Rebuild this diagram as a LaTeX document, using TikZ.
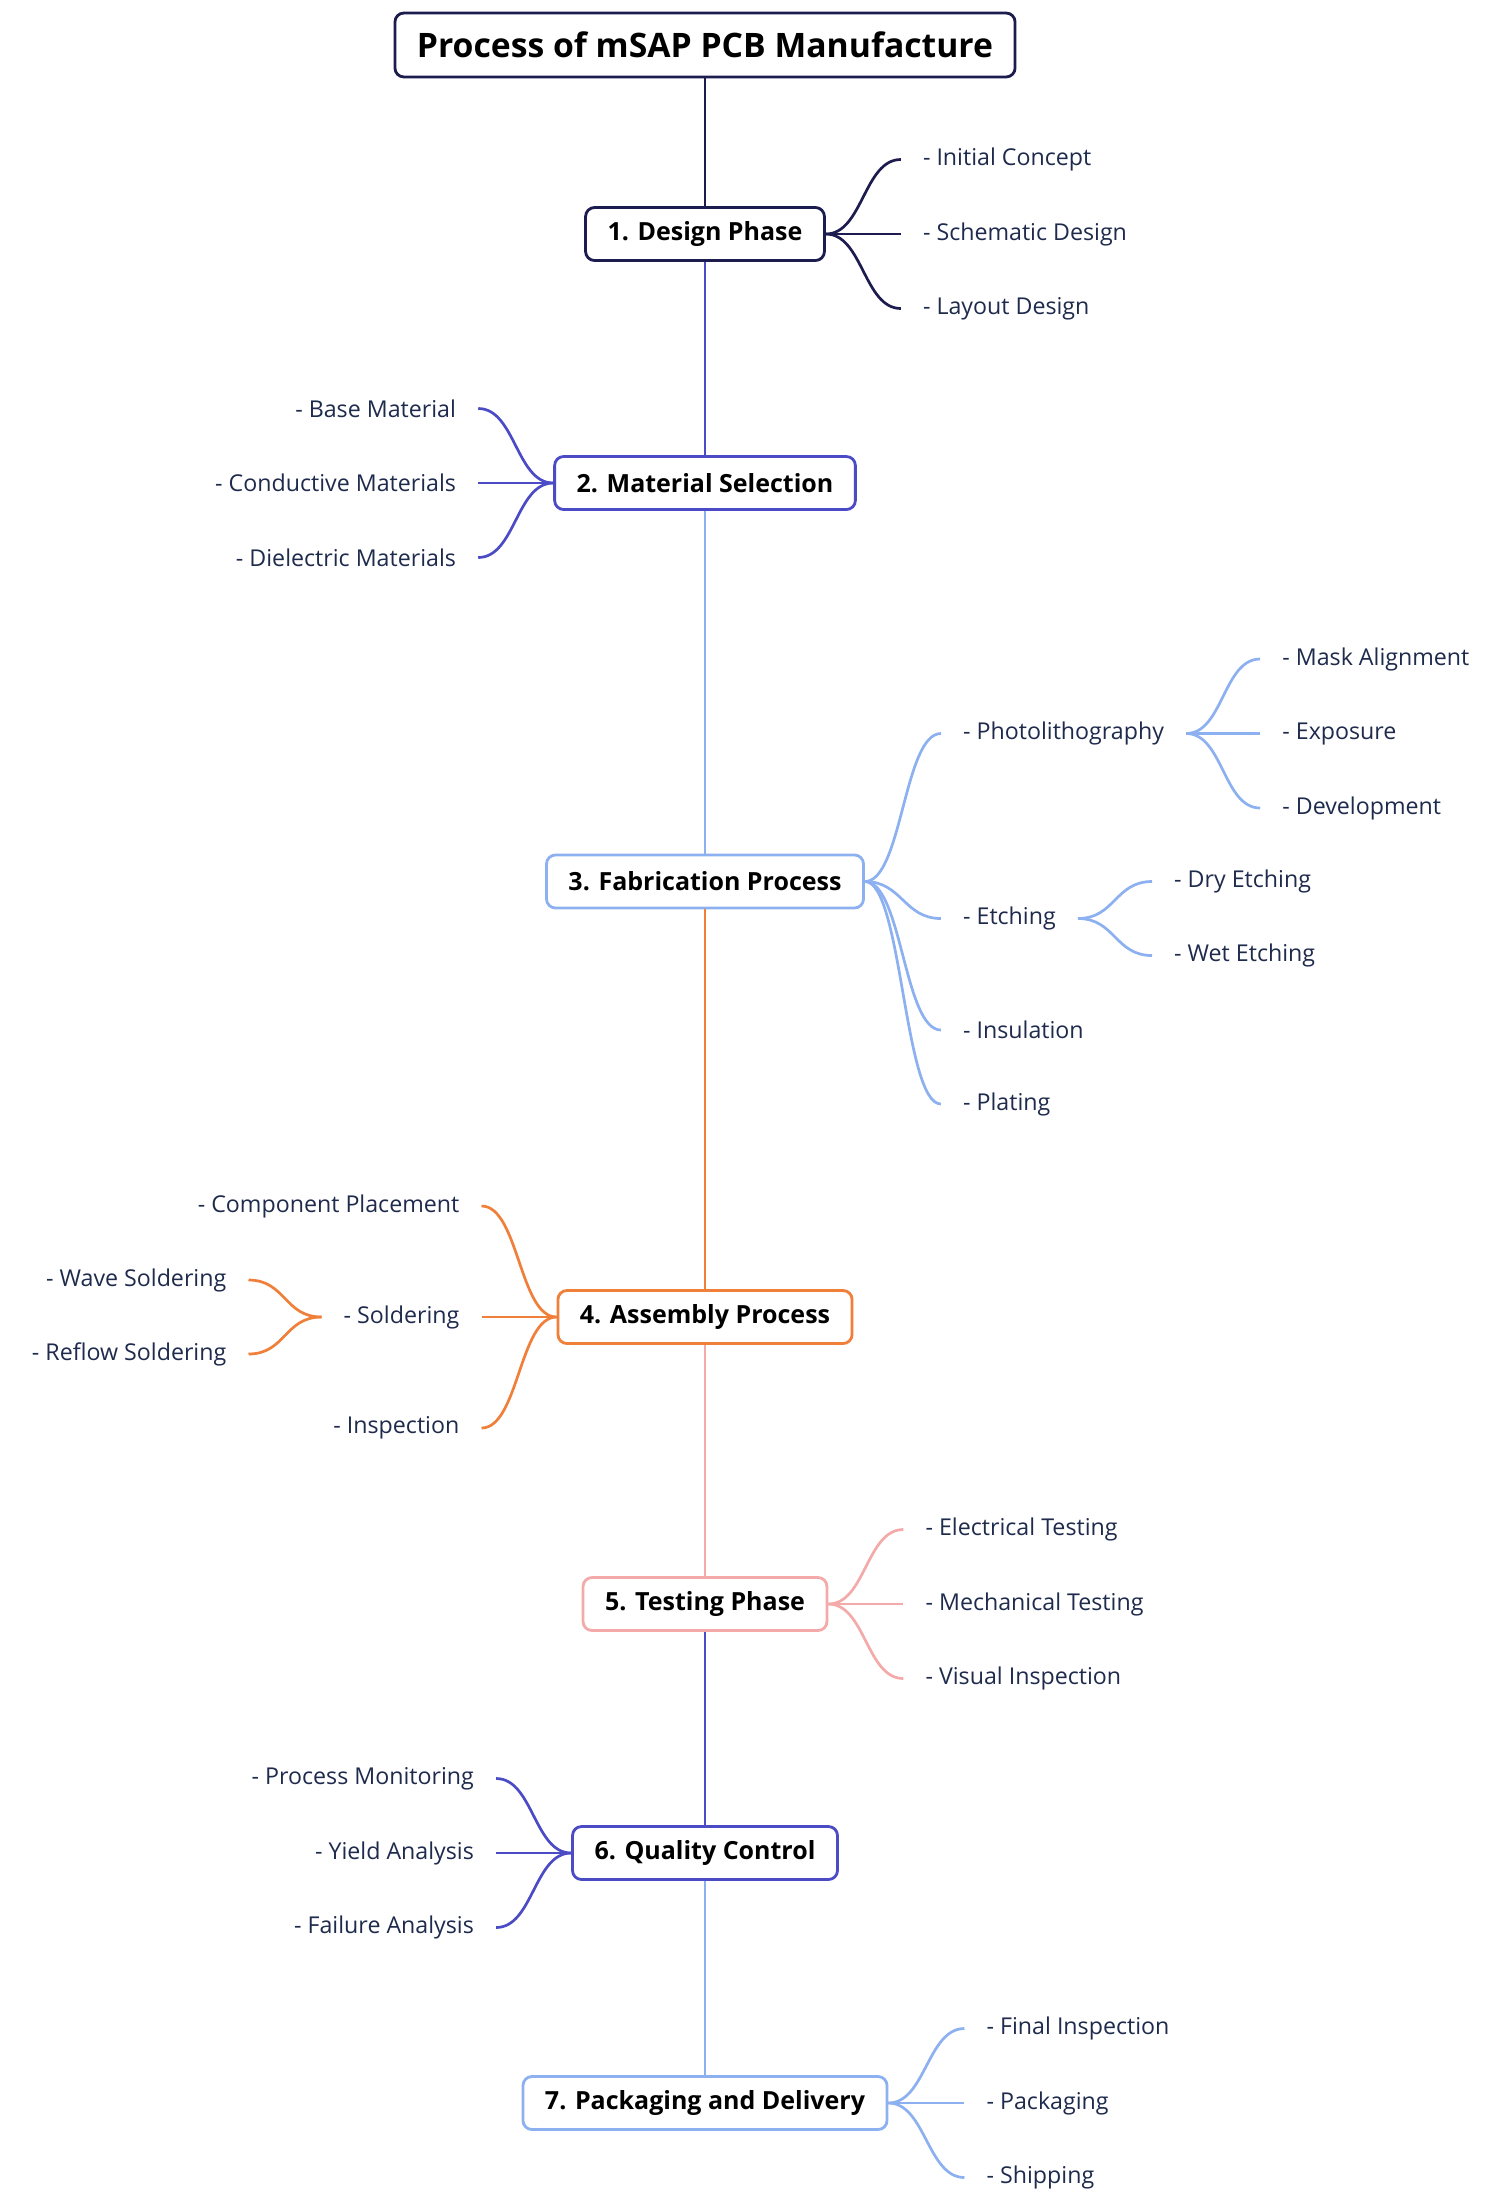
\documentclass[tikz,border=0pt]{standalone}
\usepackage{fontspec}
\setmainfont{Open Sans}
\usepackage{tikz}

\definecolor{navy}{HTML}{1C1C4E}
\definecolor{indigo}{HTML}{4B4BC6}
\definecolor{sky}{HTML}{8DB0F0}
\definecolor{tangerine}{HTML}{F07F3A}
\definecolor{rose}{HTML}{F5AAAA}
\definecolor{leaftext}{HTML}{1F2B4D}

\begin{document}
\begin{tikzpicture}[x=1pt,y=1pt,
    phase/.style={draw,shape=rectangle,rounded corners=9pt,line width=2.8pt,fill=white,text=black,minimum height=53pt,inner xsep=22pt,font=\bfseries\fontsize{25}{30}\selectfont},
    leaf/.style={inner xsep=22pt,inner ysep=2pt,text=leaftext,font=\fontsize{23.2}{28}\selectfont},
    branch/.style={line width=2.7pt},
    rlink/.style={out=0,in=180,out distance=37pt,in distance=37pt},
    llink/.style={out=180,in=0,out distance=37pt,in distance=37pt}]
        \fill[white] (0,0) rectangle (1500,-2212);
        \useasboundingbox (0,0) rectangle (1500,-2212);

        % main line
        \draw (705,-45) node (title) [phase,draw=navy,minimum height=64pt,font=\bfseries\fontsize{33.7}{40}\selectfont] {Process of mSAP PCB Manufacture};
        \draw (title)++(0,-189) node (design) [phase,draw=navy] {1. Design Phase};
        \draw (design)++(0,-249) node (material) [phase,draw=indigo] {2. Material Selection};
        \draw (material)++(0,-398.5) node (fab) [phase,draw=sky] {3. Fabrication Process};
        \draw (fab)++(0,-435.5) node (assembly) [phase,draw=tangerine] {4. Assembly Process};
        \draw (assembly)++(0,-287) node (testing) [phase,draw=rose] {5. Testing Phase};
        \draw (testing)++(0,-249) node (quality) [phase,draw=indigo] {6. Quality Control};
        \draw (quality)++(0,-250) node (packaging) [phase,draw=sky] {7. Packaging and Delivery};

        \draw[branch,navy] (title) -- (design);
        \draw[branch,indigo] (design) -- (material);
        \draw[branch,sky] (material) -- (fab);
        \draw[branch,tangerine] (fab) -- (assembly);
        \draw[branch,rose] (assembly) -- (testing);
        \draw[branch,indigo] (testing) -- (quality);
        \draw[branch,sky] (quality) -- (packaging);

        % 1. design
        \draw (design.east)++(75,74.5) node (concept) [leaf,anchor=west] {- Initial Concept};
        \draw (design.east)++(75,0) node (schematic) [leaf,anchor=west] {- Schematic Design};
        \draw (design.east)++(75,-74.5) node (layout) [leaf,anchor=west] {- Layout Design};
        \draw[branch,navy] (design.east) to[rlink] (concept.west);
        \draw[branch,navy] (design.east) to[rlink] (schematic.west);
        \draw[branch,navy] (design.east) to[rlink] (layout.west);

        % 2. materials
        \draw (material.west)++(-75,74.5) node (base) [leaf,anchor=east] {- Base Material};
        \draw (material.west)++(-75,0) node (conductive) [leaf,anchor=east] {- Conductive Materials};
        \draw (material.west)++(-75,-74.5) node (dielectric) [leaf,anchor=east] {- Dielectric Materials};
        \draw[branch,indigo] (material.west) to[llink] (base.east);
        \draw[branch,indigo] (material.west) to[llink] (conductive.east);
        \draw[branch,indigo] (material.west) to[llink] (dielectric.east);

        % 3. fabrication
        \draw (fab.east)++(76,148) node (photo) [leaf,anchor=west] {- Photolithography};
        \draw (fab.east)++(76,-37) node (etching) [leaf,anchor=west] {- Etching};
        \draw (fab.east)++(76,-148.5) node (insulation) [leaf,anchor=west] {- Insulation};
        \draw (fab.east)++(76,-222.5) node (plating) [leaf,anchor=west] {- Plating};
        \draw[branch,sky] (fab.east) to[rlink] (photo.west);
        \draw[branch,sky] (fab.east) to[rlink] (etching.west);
        \draw[branch,sky] (fab.east) to[rlink] (insulation.west);
        \draw[branch,sky] (fab.east) to[rlink] (plating.west);
        \draw (photo.east)++(74,74.5) node (mask) [leaf,anchor=west] {- Mask Alignment};
        \draw (photo.east)++(74,0) node (exposure) [leaf,anchor=west] {- Exposure};
        \draw (photo.east)++(74,-74.5) node (develop) [leaf,anchor=west] {- Development};
        \draw[branch,sky] (photo.east) to[rlink] (mask.west);
        \draw[branch,sky] (photo.east) to[rlink] (exposure.west);
        \draw[branch,sky] (photo.east) to[rlink] (develop.west);
        \draw (etching.east)++(74,37) node (dry) [leaf,anchor=west] {- Dry Etching};
        \draw (etching.east)++(74,-37) node (wet) [leaf,anchor=west] {- Wet Etching};
        \draw[branch,sky] (etching.east) to[rlink] (dry.west);
        \draw[branch,sky] (etching.east) to[rlink] (wet.west);

        % 4. assembly
        \draw (assembly.west)++(-75,111) node (placement) [leaf,anchor=east] {- Component Placement};
        \draw (assembly.west)++(-75,0) node (soldering) [leaf,anchor=east] {- Soldering};
        \draw (assembly.west)++(-75,-111) node (inspection) [leaf,anchor=east] {- Inspection};
        \draw[branch,tangerine] (assembly.west) to[llink] (placement.east);
        \draw[branch,tangerine] (assembly.west) to[llink] (soldering.east);
        \draw[branch,tangerine] (assembly.west) to[llink] (inspection.east);
        \draw (soldering.west)++(-73,37) node (wave) [leaf,anchor=east] {- Wave Soldering};
        \draw (soldering.west)++(-73,-37) node (reflow) [leaf,anchor=east] {- Reflow Soldering};
        \draw[branch,tangerine] (soldering.west) to[llink] (wave.east);
        \draw[branch,tangerine] (soldering.west) to[llink] (reflow.east);

        % 5. testing
        \draw (testing.east)++(75,74.5) node (electrical) [leaf,anchor=west] {- Electrical Testing};
        \draw (testing.east)++(75,0) node (mechanical) [leaf,anchor=west] {- Mechanical Testing};
        \draw (testing.east)++(75,-74.5) node (visual) [leaf,anchor=west] {- Visual Inspection};
        \draw[branch,rose] (testing.east) to[rlink] (electrical.west);
        \draw[branch,rose] (testing.east) to[rlink] (mechanical.west);
        \draw[branch,rose] (testing.east) to[rlink] (visual.west);

        % 6. quality
        \draw (quality.west)++(-75,74.5) node (monitoring) [leaf,anchor=east] {- Process Monitoring};
        \draw (quality.west)++(-75,0) node (yield) [leaf,anchor=east] {- Yield Analysis};
        \draw (quality.west)++(-75,-74.5) node (failure) [leaf,anchor=east] {- Failure Analysis};
        \draw[branch,indigo] (quality.west) to[llink] (monitoring.east);
        \draw[branch,indigo] (quality.west) to[llink] (yield.east);
        \draw[branch,indigo] (quality.west) to[llink] (failure.east);

        % 7. packaging
        \draw (packaging.east)++(76,74.5) node (final) [leaf,anchor=west] {- Final Inspection};
        \draw (packaging.east)++(76,0) node (pack) [leaf,anchor=west] {- Packaging};
        \draw (packaging.east)++(76,-74.5) node (shipping) [leaf,anchor=west] {- Shipping};
        \draw[branch,sky] (packaging.east) to[rlink] (final.west);
        \draw[branch,sky] (packaging.east) to[rlink] (pack.west);
        \draw[branch,sky] (packaging.east) to[rlink] (shipping.west);
\end{tikzpicture}
\end{document}
